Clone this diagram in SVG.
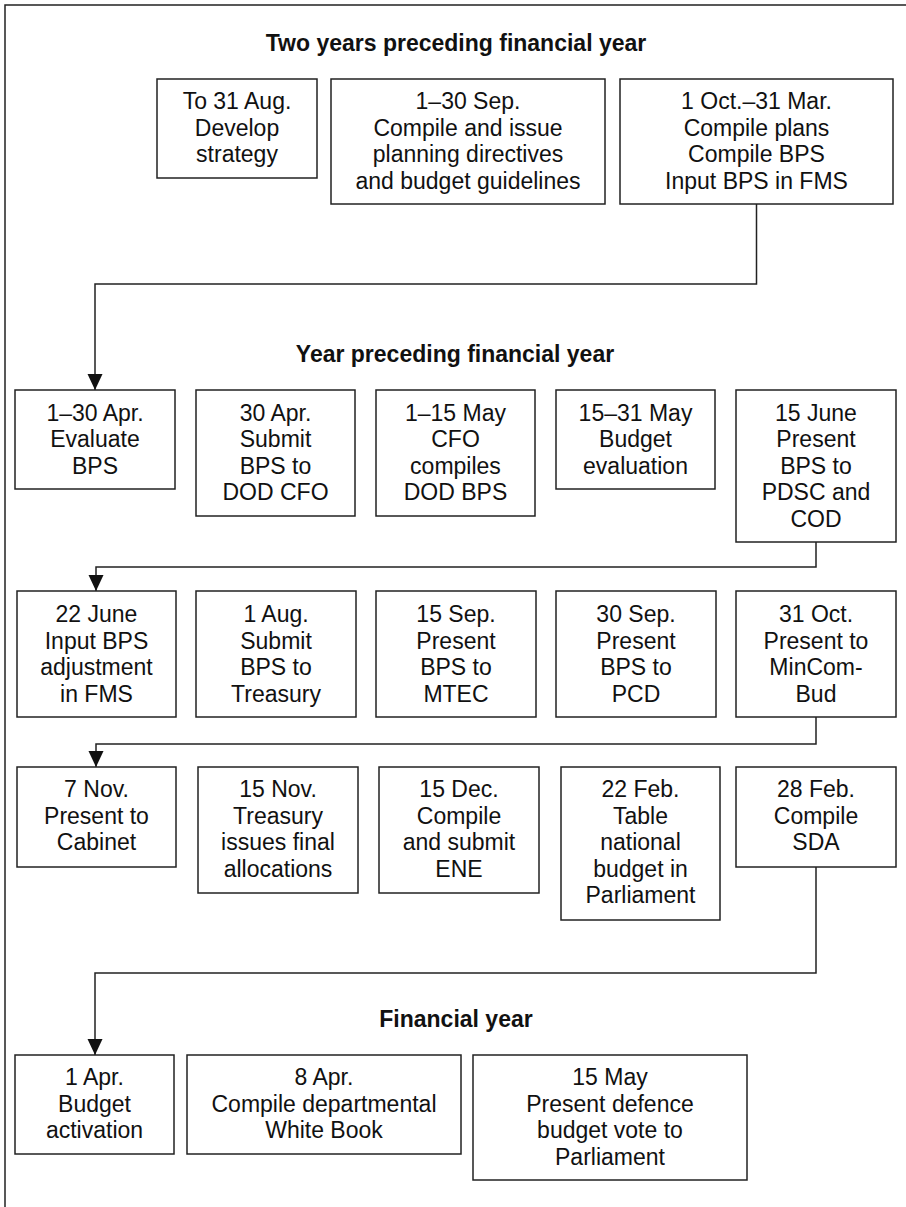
<svg xmlns="http://www.w3.org/2000/svg" width="906" height="1207" viewBox="0 0 906 1207">
<style>
.frame{fill:none;stroke:#222;stroke-width:1.5}
.box{fill:#fff;stroke:#222;stroke-width:1.5}
.t{font-family:"Liberation Sans",Arial,sans-serif;font-size:23px;fill:#111;text-anchor:middle}
.h{font-family:"Liberation Sans",Arial,sans-serif;font-size:23px;font-weight:bold;fill:#111;text-anchor:middle}
.c{fill:none;stroke:#222;stroke-width:1.5}
</style>
<defs>
<marker id="arr" markerUnits="userSpaceOnUse" markerWidth="16" markerHeight="16" refX="16" refY="7.5" orient="auto">
<path d="M0,0 L16,7.5 L0,15 z" fill="#111"/>
</marker>
</defs>
<rect width="906" height="1207" fill="#fff"/>
<path class="frame" d="M5,1207 V5 H906"/>

<g id="titles">
<text class="h" x="456" y="51">Two years preceding financial year</text>
<text class="h" x="455" y="362">Year preceding financial year</text>
<text class="h" x="456" y="1027">Financial year</text>
</g>

<g id="connectors">
<path class="c" d="M756.5,204 V284 H95 V390" marker-end="url(#arr)"/>
<path class="c" d="M816,542 V567 H96 V591" marker-end="url(#arr)"/>
<path class="c" d="M816,717 V744 H96 V767" marker-end="url(#arr)"/>
<path class="c" d="M816,867 V973 H95 V1055" marker-end="url(#arr)"/>
</g>

<!-- Row 1 -->
<g id="n1"><rect class="box" x="157" y="79" width="160" height="99"/>
<text class="t" x="237" y="109">To 31 Aug.<tspan x="237" dy="26.5">Develop</tspan><tspan x="237" dy="26.5">strategy</tspan></text></g>
<g id="n2"><rect class="box" x="331" y="79" width="274" height="125"/>
<text class="t" x="468" y="109">1–30 Sep.<tspan x="468" dy="26.5">Compile and issue</tspan><tspan x="468" dy="26.5">planning directives</tspan><tspan x="468" dy="26.5">and budget guidelines</tspan></text></g>
<g id="n3"><rect class="box" x="620" y="79" width="273" height="125"/>
<text class="t" x="756.5" y="109">1 Oct.–31 Mar.<tspan x="756.5" dy="26.5">Compile plans</tspan><tspan x="756.5" dy="26.5">Compile BPS</tspan><tspan x="756.5" dy="26.5">Input BPS in FMS</tspan></text></g>

<!-- Row 2 -->
<g id="n4"><rect class="box" x="15" y="390" width="160" height="99"/>
<text class="t" x="95" y="420.5">1–30 Apr.<tspan x="95" dy="26.5">Evaluate</tspan><tspan x="95" dy="26.5">BPS</tspan></text></g>
<g id="n5"><rect class="box" x="196" y="390" width="159" height="126"/>
<text class="t" x="275.5" y="420.5">30 Apr.<tspan x="275.5" dy="26.5">Submit</tspan><tspan x="275.5" dy="26.5">BPS to</tspan><tspan x="275.5" dy="26.5">DOD CFO</tspan></text></g>
<g id="n6"><rect class="box" x="376" y="390" width="159" height="126"/>
<text class="t" x="455.5" y="420.5">1–15 May<tspan x="455.5" dy="26.5">CFO</tspan><tspan x="455.5" dy="26.5">compiles</tspan><tspan x="455.5" dy="26.5">DOD BPS</tspan></text></g>
<g id="n7"><rect class="box" x="556" y="390" width="159" height="99"/>
<text class="t" x="635.5" y="420.5">15–31 May<tspan x="635.5" dy="26.5">Budget</tspan><tspan x="635.5" dy="26.5">evaluation</tspan></text></g>
<g id="n8"><rect class="box" x="736" y="390" width="160" height="152"/>
<text class="t" x="816" y="420.5">15 June<tspan x="816" dy="26.5">Present</tspan><tspan x="816" dy="26.5">BPS to</tspan><tspan x="816" dy="26.5">PDSC and</tspan><tspan x="816" dy="26.5">COD</tspan></text></g>

<!-- Row 3 -->
<g id="n9"><rect class="box" x="17" y="591" width="159" height="126"/>
<text class="t" x="96.5" y="622">22 June<tspan x="96.5" dy="26.5">Input BPS</tspan><tspan x="96.5" dy="26.5">adjustment</tspan><tspan x="96.5" dy="26.5">in FMS</tspan></text></g>
<g id="n10"><rect class="box" x="196" y="591" width="160" height="126"/>
<text class="t" x="276" y="622">1 Aug.<tspan x="276" dy="26.5">Submit</tspan><tspan x="276" dy="26.5">BPS to</tspan><tspan x="276" dy="26.5">Treasury</tspan></text></g>
<g id="n11"><rect class="box" x="376" y="591" width="160" height="126"/>
<text class="t" x="456" y="622">15 Sep.<tspan x="456" dy="26.5">Present</tspan><tspan x="456" dy="26.5">BPS to</tspan><tspan x="456" dy="26.5">MTEC</tspan></text></g>
<g id="n12"><rect class="box" x="556" y="591" width="160" height="126"/>
<text class="t" x="636" y="622">30 Sep.<tspan x="636" dy="26.5">Present</tspan><tspan x="636" dy="26.5">BPS to</tspan><tspan x="636" dy="26.5">PCD</tspan></text></g>
<g id="n13"><rect class="box" x="736" y="591" width="160" height="126"/>
<text class="t" x="816" y="622">31 Oct.<tspan x="816" dy="26.5">Present to</tspan><tspan x="816" dy="26.5">MinCom-</tspan><tspan x="816" dy="26.5">Bud</tspan></text></g>

<!-- Row 4 -->
<g id="n14"><rect class="box" x="17" y="767" width="159" height="100"/>
<text class="t" x="96.5" y="797">7 Nov.<tspan x="96.5" dy="26.5">Present to</tspan><tspan x="96.5" dy="26.5">Cabinet</tspan></text></g>
<g id="n15"><rect class="box" x="198" y="767" width="160" height="126"/>
<text class="t" x="278" y="797">15 Nov.<tspan x="278" dy="26.5">Treasury</tspan><tspan x="278" dy="26.5">issues final</tspan><tspan x="278" dy="26.5">allocations</tspan></text></g>
<g id="n16"><rect class="box" x="379" y="767" width="160" height="126"/>
<text class="t" x="459" y="797">15 Dec.<tspan x="459" dy="26.5">Compile</tspan><tspan x="459" dy="26.5">and submit</tspan><tspan x="459" dy="26.5">ENE</tspan></text></g>
<g id="n17"><rect class="box" x="561" y="767" width="159" height="153"/>
<text class="t" x="640.5" y="797">22 Feb.<tspan x="640.5" dy="26.5">Table</tspan><tspan x="640.5" dy="26.5">national</tspan><tspan x="640.5" dy="26.5">budget in</tspan><tspan x="640.5" dy="26.5">Parliament</tspan></text></g>
<g id="n18"><rect class="box" x="736" y="767" width="160" height="100"/>
<text class="t" x="816" y="797">28 Feb.<tspan x="816" dy="26.5">Compile</tspan><tspan x="816" dy="26.5">SDA</tspan></text></g>

<!-- Row 5 -->
<g id="n19"><rect class="box" x="15" y="1055" width="159" height="99"/>
<text class="t" x="94.5" y="1085">1 Apr.<tspan x="94.5" dy="26.5">Budget</tspan><tspan x="94.5" dy="26.5">activation</tspan></text></g>
<g id="n20"><rect class="box" x="187" y="1055" width="274" height="99"/>
<text class="t" x="324" y="1085">8 Apr.<tspan x="324" dy="26.5">Compile departmental</tspan><tspan x="324" dy="26.5">White Book</tspan></text></g>
<g id="n21"><rect class="box" x="473" y="1055" width="274" height="125"/>
<text class="t" x="610" y="1085">15 May<tspan x="610" dy="26.5">Present defence</tspan><tspan x="610" dy="26.5">budget vote to</tspan><tspan x="610" dy="26.5">Parliament</tspan></text></g>
</svg>
